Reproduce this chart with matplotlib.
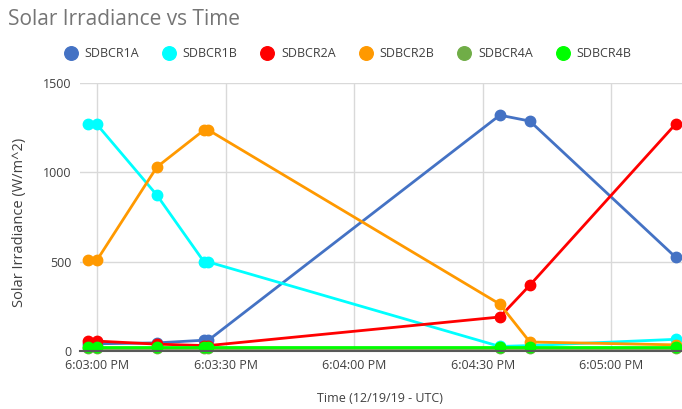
import matplotlib
matplotlib.use('Agg')
import matplotlib.pyplot as plt
import matplotlib.dates as mdates
from datetime import datetime

plt.rcParams['font.family'] = ['Open Sans', 'DejaVu Sans']

times = ['18:02:58', '18:03:00', '18:03:14', '18:03:25', '18:03:26',
         '18:04:34', '18:04:41', '18:05:15']
names = ['SDBCR1A', 'SDBCR1B', 'SDBCR2A', 'SDBCR2B', 'SDBCR4A', 'SDBCR4B']
colors = ['#4472C4', '#00FFFF', '#FF0000', '#FF9900', '#70AD47', '#00FF00']

sdbcr1a = [40, 40, 45, 60, 60, 1320, 1287, 525]
sdbcr1b = [1268, 1268, 872, 498, 498, 25, 30, 65]
sdbcr2a = [55, 55, 38, 30, 30, 190, 368, 1270]
sdbcr2b = [508, 508, 1030, 1237, 1237, 262, 50, 34]
sdbcr4a = [18, 18, 18, 18, 18, 18, 18, 18]
sdbcr4b = [22, 22, 22, 22, 22, 22, 22, 22]
series = [sdbcr1a, sdbcr1b, sdbcr2a, sdbcr2b, sdbcr4a, sdbcr4b]

x = [datetime.strptime('2019-12-19 ' + t, '%Y-%m-%d %H:%M:%S') for t in times]

fig = plt.figure(figsize=(6.82, 4.09), dpi=100)
ax = fig.add_axes([0.117, 0.142, 0.883, 0.655])

for vals, name, c in zip(series, names, colors):
    ax.plot(x, vals, color=c, lw=2, marker='o', ms=7.5, label=name,
            solid_capstyle='round', clip_on=False)

ax.set_ylim(0, 1500)
ax.set_yticks([0, 500, 1000, 1500])
ax.set_xlim(datetime(2019, 12, 19, 18, 2, 56), datetime(2019, 12, 19, 18, 5, 16, 500000))
ax.xaxis.set_major_locator(mdates.SecondLocator(bysecond=[0, 30]))
ax.xaxis.set_major_formatter(mdates.DateFormatter('%-I:%M:%S %p'))

ax.grid(True, color='#D9D9D9', lw=1)
ax.set_axisbelow(True)
for s in ['top', 'right', 'left']:
    ax.spines[s].set_visible(False)
ax.spines['bottom'].set_color('#595959')
ax.spines['bottom'].set_linewidth(1.5)
ax.tick_params(length=0, labelsize=9, colors='#404040', pad=6)

ax.set_xlabel('Time (12/19/19 - UTC)', fontsize=9, color='#404040', va='center')
ax.xaxis.set_label_coords(0.498, -0.179)
ax.set_ylabel('Solar Irradiance (W/m^2)', fontsize=10.5, color='#404040', va='center')
ax.yaxis.set_label_coords(-0.1, 0.48)

fig.text(0.012, 0.952, 'Solar Irradiance vs Time', fontsize=15, color='#757575',
         va='center', ha='left')
leg = fig.legend(loc='center', bbox_to_anchor=(0.51, 0.868), ncol=6, frameon=False,
                 fontsize=9, handlelength=1, handletextpad=0.6, columnspacing=1.9,
                 markerscale=1.3, labelcolor='#404040')
for h in leg.legend_handles:
    h.set_linestyle('none')

fig.savefig('out.png', dpi=100)
plt.close()
